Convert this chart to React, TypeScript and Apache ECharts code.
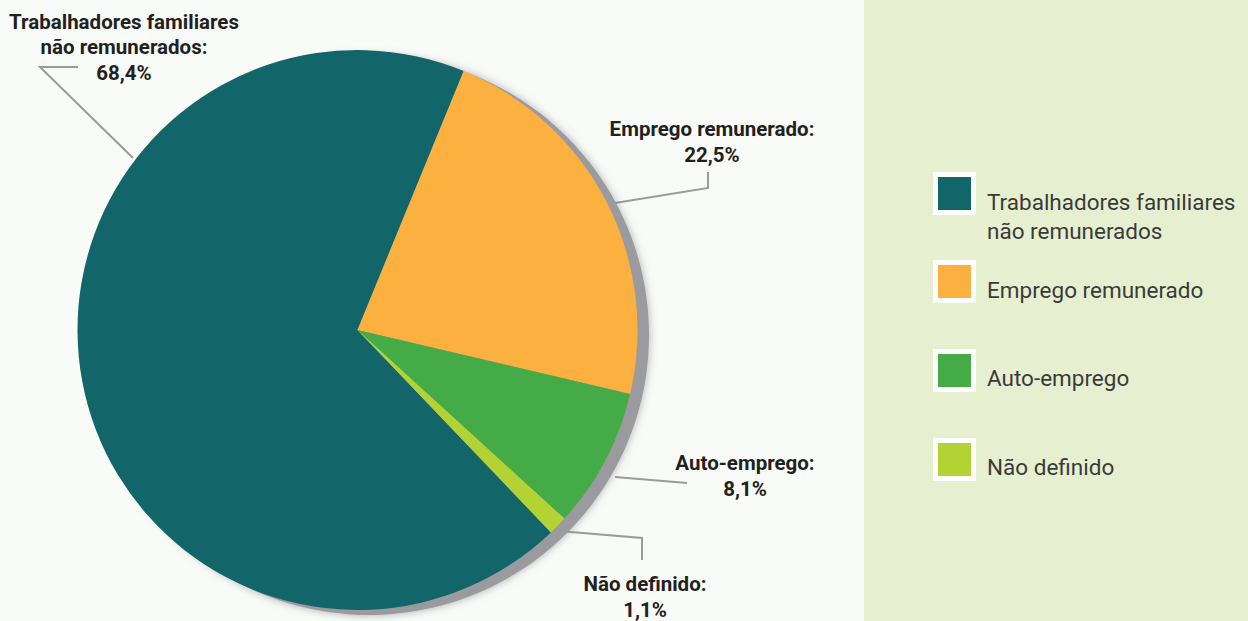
import React, { useEffect, useRef } from "react";
import * as echarts from "echarts";

const categories = [
  "Trabalhadores familiares\nnão remunerados",
  "Emprego remunerado",
  "Auto-emprego",
  "Não definido",
];
const values = [68.4, 22.5, 8.1, 1.1];
const colors = ["#12666a", "#fcb040", "#44ab47", "#b3d334"];

// label anchor positions and leader-line points (layout only)
const labelPos = [
  { x: 124, y: 47, line: [[133, 158], [40, 67], [78, 67]] },
  { x: 712, y: 142, line: [[615, 203], [708, 188], [708, 172]] },
  { x: 745, y: 476, line: [[615, 477], [651, 480], [687, 483]] },
  { x: 645, y: 597, line: [[547, 530], [642, 538], [642, 560]] },
];
// legend layout: icon tops and text centres
const legendIconTops = [172, 260, 349, 438];
const legendTextY = [216, 289.5, 377.5, 466.5];

const fmt = (v: number) => v.toFixed(1).replace(".", ",");

export default function App() {
  const ref = useRef<HTMLDivElement>(null);
  useEffect(() => {
    if (!ref.current) return;
    const chart = echarts.init(ref.current, null, { renderer: "svg" });
    const legendGraphics: any[] = [];
    categories.forEach((c, i) => {
      legendGraphics.push({
        type: "rect",
        shape: { x: 935.5, y: legendIconTops[i] + 2.5, width: 38, height: 38 },
        style: { fill: colors[i], stroke: "#ffffff", lineWidth: 5 },
        silent: true,
      });
      legendGraphics.push({
        type: "text",
        x: 987,
        y: legendTextY[i],
        style: {
          text: c,
          fontFamily: "Roboto, Arial, sans-serif",
          fontSize: 22.5,
          lineHeight: 29,
          fill: "#3a3a3a",
          align: "left",
          verticalAlign: "middle",
        },
        silent: true,
      });
    });
    chart.setOption({
      animation: false,
      backgroundColor: "#f9fbf8",
      graphic: [
        {
          type: "rect",
          z: -10,
          shape: { x: 864, y: 0, width: 384, height: 621 },
          style: { fill: "#e6f0d0" },
          silent: true,
        },
        ...legendGraphics,
      ],
      series: [
        {
          type: "pie",
          silent: true,
          center: [369, 335],
          radius: 280,
          label: { show: false },
          labelLine: { show: false },
          itemStyle: {
            color: "#9b9b9f",
            shadowBlur: 8,
            shadowColor: "rgba(110,110,115,0.55)",
          },
          data: [{ value: 1, name: "sombra" }],
        },
        {
          type: "pie",
          center: [357.5, 330],
          radius: 280,
          startAngle: -46.3,
          clockwise: true,
          avoidLabelOverlap: false,
          data: categories.map((c, i) => ({
            name: c,
            value: values[i],
            itemStyle: { color: colors[i] },
          })),
          label: {
            show: true,
            formatter: (p: any) => `${p.name}:\n${fmt(p.value)}%`,
            fontFamily: "Roboto, Arial, sans-serif",
            fontWeight: "bold",
            fontSize: 20.5,
            lineHeight: 25.5,
            color: "#231f20",
            align: "center",
          },
          labelLine: {
            show: true,
            smooth: false,
            lineStyle: { color: "#9b9b9b", width: 2 },
          },
          labelLayout: (params: any) => {
            const p = labelPos[params.dataIndex];
            return {
              x: p.x,
              y: p.y,
              align: "center",
              verticalAlign: "middle",
              labelLinePoints: p.line,
            };
          },
        },
      ],
    });
    return () => chart.dispose();
  }, []);
  return (
    <div
      ref={ref}
      style={{ position: "absolute", left: 0, top: 0, width: 1248, height: 621 }}
    />
  );
}
